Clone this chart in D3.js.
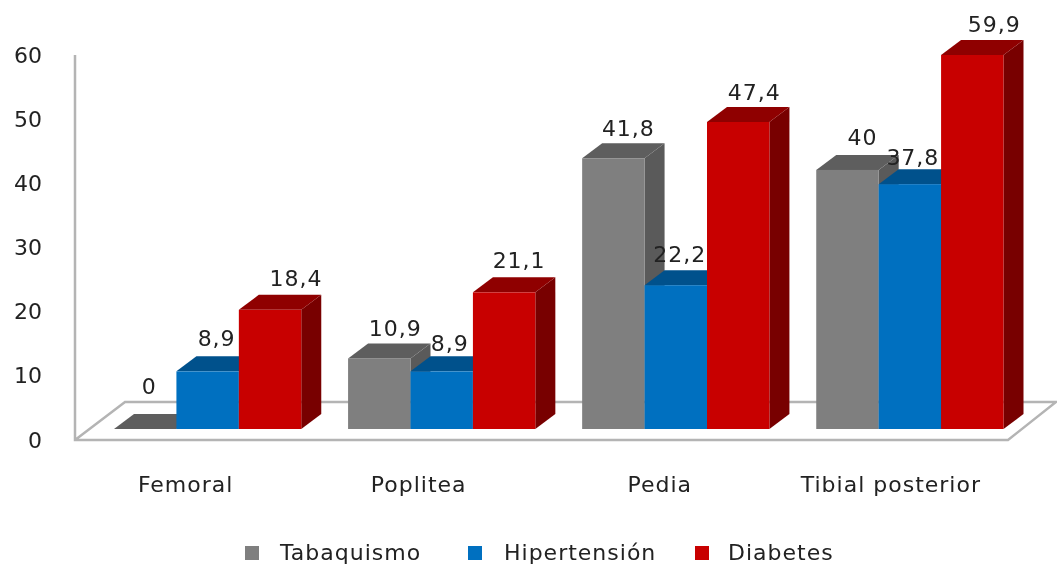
<!DOCTYPE html>
<html>
<head>
<meta charset="utf-8">
<script src="https://cdn.jsdelivr.net/npm/d3@7"></script>
<style>
  html, body { margin: 0; padding: 0; background: #fff; }
  svg { display: block; filter: blur(0.5px); }
  text { font-family: "DejaVu Sans", Verdana, sans-serif; fill: #222; }
  .axis path, .axis line { display: none; }
  .y.axis text { font-size: 22px; }
  .x.axis text { font-size: 22px; letter-spacing: 1px; }
  .lab { font-size: 22px; letter-spacing: 1px; text-anchor: middle; }
  .leg { font-size: 22px; letter-spacing: 1px; }
</style>
</head>
<body>
<div id="chart"></div>
<script>
const categories = ['Femoral', 'Poplitea', 'Pedia', 'Tibial posterior'];
const seriesNames = ['Tabaquismo', 'Hipertensión', 'Diabetes'];
const tabaquismo = [0, 10.9, 41.8, 40];
const hipertension = [8.9, 8.9, 22.2, 37.8];
const diabetes = [18.4, 21.1, 47.4, 59.9];
const yTicks = [0, 10, 20, 30, 40, 50, 60];

const seriesValues = [tabaquismo, hipertension, diabetes];
const frontColors = ['#7f7f7f', '#0070c0', '#c80000'];
const topColors = ['#5e5e5e', '#00518c', '#8f0000'];
const sideColors = ['#5a5a5a', '#004a80', '#780000'];

const width = 1057, height = 568;
const depth = { x: 20, y: 15 };

const xGroup = d3.scaleBand().domain(categories).range([114, 1003.5]).paddingInner(0.2);
const xBar = d3.scaleBand().domain(seriesNames).range([0, xGroup.bandwidth()]);
// bars sit above the axis zero; the tallest bar is squeezed in the source picture, hence the bend
const yBar = d3.scaleLinear().domain([0, 47.4, 59.9]).range([429, 122, 55]);
const yAxisScale = d3.scaleLinear().domain([0, 60]).range([440, 55]);

// label offsets from the top centre of each bar, by series then category
const labelNudge = [
  [[4, 43], [16, 30], [15, 30], [15, 33]],
  [[9, 33], [8, 28], [4, 31], [3, 27]],
  [[26, 32], [15, 32], [16, 30], [22, 31]]
];
const catNudge = [-22, -23, -16, -19];

const fmt = v => String(v).replace('.', ',');

const svg = d3.select('#chart').append('svg')
  .attr('width', width)
  .attr('height', height);

// floor and left wall
svg.append('path')
  .attr('d', 'M75,55 L75,440 L1008,440 L1056,402 L125,402 L75,440')
  .attr('fill', 'none')
  .attr('stroke', '#b4b4b4')
  .attr('stroke-width', 2.5);

svg.append('g')
  .attr('class', 'y axis')
  .attr('transform', 'translate(42,0)')
  .call(d3.axisLeft(yAxisScale).tickValues(yTicks).tickSize(0).tickPadding(0).tickFormat(d => d));

function drawBar(g, x, w, y0, y1, s) {
  g.append('path')
    .attr('fill', sideColors[s])
    .attr('d', d3.line()([[x + w, y1], [x + w + depth.x, y1 - depth.y], [x + w + depth.x, y0 - depth.y], [x + w, y0]]) + 'Z');
  g.append('path')
    .attr('fill', topColors[s])
    .attr('d', d3.line()([[x, y1], [x + depth.x, y1 - depth.y], [x + w + depth.x, y1 - depth.y], [x + w, y1]]) + 'Z');
  g.append('rect')
    .attr('x', x)
    .attr('y', y1)
    .attr('width', w)
    .attr('height', y0 - y1)
    .attr('fill', frontColors[s]);
}

categories.forEach(function(cat, c) {
  let group = svg.append('g').attr('class', 'bars');
  seriesValues.forEach(function(vals, s) {
    let x = xGroup(cat) + xBar(seriesNames[s]);
    drawBar(group, x, xBar.bandwidth(), yBar(0), yBar(vals[c]), s);
  });
});

// value labels go last so they stay on top of the bars
categories.forEach(function(cat, c) {
  seriesValues.forEach(function(vals, s) {
    svg.append('text')
      .attr('class', 'lab')
      .attr('x', xGroup(cat) + xBar(seriesNames[s]) + xBar.bandwidth() / 2 + labelNudge[s][c][0])
      .attr('y', yBar(vals[c]) - labelNudge[s][c][1] + 8)
      .text(fmt(vals[c]));
  });
});

const xAxis = svg.append('g')
  .attr('class', 'x axis')
  .attr('transform', 'translate(0,476)')
  .call(d3.axisBottom(xGroup).tickSize(0).tickPadding(0));
xAxis.selectAll('text')
  .attr('dy', '0.71em')
  .attr('dx', (d, i) => catNudge[i]);

const legendX = d3.scaleOrdinal().domain(seriesNames).range([245, 468, 695]);
const legendTextX = d3.scaleOrdinal().domain(seriesNames).range([280, 504, 728]);
let legend = svg.append('g').attr('class', 'legend');
seriesNames.forEach(function(name, s) {
  legend.append('rect')
    .attr('x', legendX(name))
    .attr('y', 546)
    .attr('width', 14)
    .attr('height', 14)
    .attr('fill', frontColors[s]);
  legend.append('text')
    .attr('class', 'leg')
    .attr('x', legendTextX(name))
    .attr('y', 560)
    .text(name);
});
</script>
</body>
</html>
